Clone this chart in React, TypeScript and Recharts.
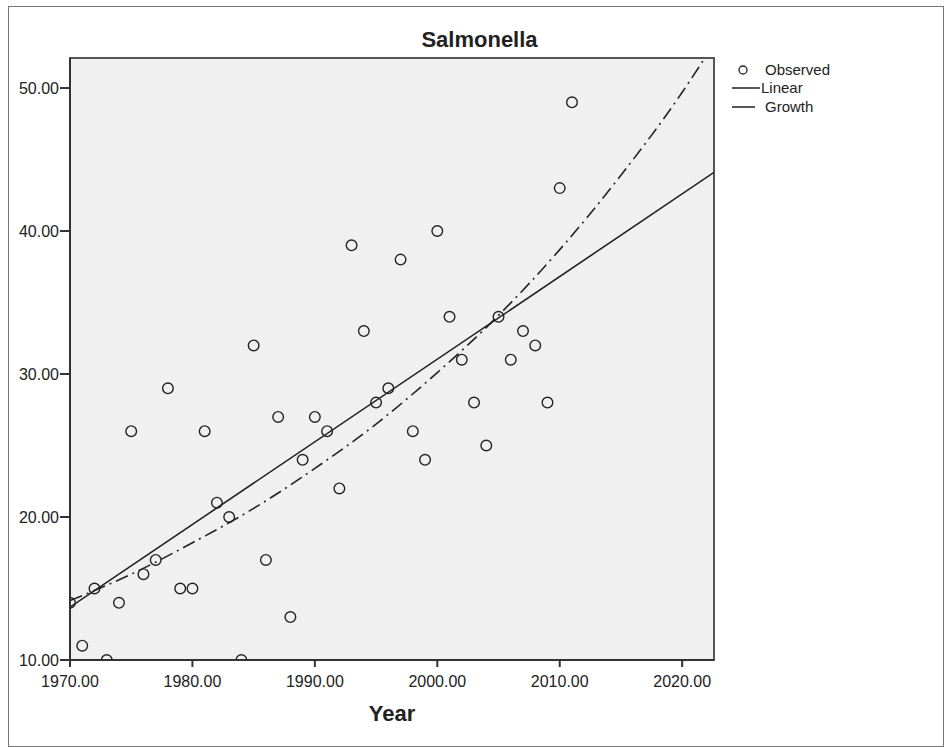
import React from 'react';
import {
  ComposedChart,
  Scatter,
  Line,
  XAxis,
  YAxis,
  CartesianGrid,
  ReferenceArea,
  Legend,
  Label,
} from 'recharts';

const years = [
  1970, 1971, 1972, 1973, 1974, 1975, 1976, 1977, 1978, 1979,
  1980, 1981, 1982, 1983, 1984, 1985, 1986, 1987, 1988, 1989,
  1990, 1991, 1992, 1993, 1994, 1995, 1996, 1997, 1998, 1999,
  2000, 2001, 2002, 2003, 2004, 2005, 2006, 2007, 2008, 2009,
  2010, 2011,
];
const observed = [
  14, 11, 15, 10, 14, 26, 16, 17, 29, 15,
  15, 26, 21, 20, 10, 32, 17, 27, 13, 24,
  27, 26, 22, 39, 33, 28, 29, 38, 26, 24,
  40, 34, 31, 28, 25, 34, 31, 33, 32, 28,
  43, 49,
];

const linearYears = [1970, 2022.6];
const linearValues = [13.7, 44.1];

const growthYears = [1970, 1975, 1980, 1985, 1990, 1995, 2000, 2005, 2010, 2015, 2020, 2022.6];
const growthValues = [14.15, 16.0, 18.2, 20.6, 23.4, 26.5, 30.1, 34.1, 38.7, 43.9, 49.7, 53.1];

const xTicks = [1970, 1980, 1990, 2000, 2010, 2020];
const yTicks = [10, 20, 30, 40, 50];

const observedData = years.map((year, i) => ({ year, value: observed[i] }));
const linearData = linearYears.map((year, i) => ({ year, value: linearValues[i] }));
const growthData = growthYears.map((year, i) => ({ year, value: growthValues[i] }));

const INK = '#222';
const FONT = 'Arial, "Liberation Sans", sans-serif';

const OpenCircle = (props: any) => {
  const { cx, cy } = props;
  if (cx == null || cy == null) return null;
  return <circle cx={cx} cy={cy} r={5.3} fill="none" stroke={INK} strokeWidth={1.4} />;
};

const LegendBox = () => (
  <svg width={130} height={58} style={{ fontFamily: FONT, fontSize: 15 }}>
    <circle cx={11} cy={8} r={4} fill="none" stroke={INK} strokeWidth={1.3} />
    <text x={33} y={13} fill={INK}>Observed</text>
    <line x1={0} y1={26} x2={28} y2={26} stroke={INK} strokeWidth={1.5} />
    <text x={29} y={31} fill={INK}>Linear</text>
    <line x1={0} y1={45} x2={28} y2={45} stroke={INK} strokeWidth={1.5} strokeDasharray="23 5 2 100" />
    <text x={33} y={50} fill={INK}>Growth</text>
  </svg>
);

export default function App() {
  return (
    <div
      style={{
        position: 'absolute',
        left: 0,
        top: 0,
        width: 951,
        height: 747,
        background: '#fff',
        fontFamily: FONT,
      }}
    >
      <div
        style={{
          position: 'absolute',
          left: 8,
          top: 6,
          width: 934,
          height: 739,
          border: '1px solid #777',
        }}
      />
      <div
        style={{
          position: 'absolute',
          left: 4,
          width: 951,
          top: 27,
          textAlign: 'center',
          fontSize: 22,
          fontWeight: 'bold',
          color: INK,
        }}
      >
        Salmonella
      </div>
      <div style={{ position: 'absolute', left: 0, top: 0 }}>
        <ComposedChart
          width={951}
          height={747}
          margin={{ top: 58, right: 107, bottom: 0, left: 0 }}
        >
          <CartesianGrid fill="#f0f0f0" horizontal={false} vertical={false} />
          <XAxis
            type="number"
            dataKey="year"
            domain={[1970, 2022.6]}
            allowDataOverflow
            ticks={xTicks}
            tickFormatter={(v: number) => v.toFixed(2)}
            height={87}
            tickSize={7}
            tickMargin={9}
            axisLine={{ stroke: '#333', strokeWidth: 2 }}
            tickLine={{ stroke: '#333', strokeWidth: 2 }}
            tick={{ fill: INK, fontSize: 16, fontFamily: FONT }}
          >
            <Label
              value="Year"
              position="insideBottom"
              offset={26}
              style={{ fill: INK, fontSize: 22, fontWeight: 'bold', fontFamily: FONT }}
            />
          </XAxis>
          <YAxis
            type="number"
            dataKey="value"
            domain={[10, 52.1]}
            allowDataOverflow
            ticks={yTicks}
            tickFormatter={(v: number) => v.toFixed(2)}
            width={70}
            tickSize={10}
            tickMargin={1}
            axisLine={{ stroke: '#333', strokeWidth: 2 }}
            tickLine={{ stroke: '#333', strokeWidth: 2 }}
            tick={{ fill: INK, fontSize: 16, fontFamily: FONT }}
          />
          <ReferenceArea
            x1={1970}
            x2={2022.6}
            y1={10}
            y2={52.1}
            fill="none"
            fillOpacity={0}
            stroke="#555"
            strokeWidth={2}
          />
          <Legend
            verticalAlign="top"
            align="right"
            layout="vertical"
            content={<LegendBox />}
            wrapperStyle={{ position: 'absolute', left: 732, top: 62, width: 130 }}
          />
          <Line
            data={linearData}
            dataKey="value"
            type="linear"
            stroke={INK}
            strokeWidth={1.6}
            dot={false}
            activeDot={false}
            isAnimationActive={false}
            legendType="none"
          />
          <Line
            data={growthData}
            dataKey="value"
            type="monotone"
            stroke={INK}
            strokeWidth={1.6}
            strokeDasharray="13 5 2 5"
            dot={false}
            activeDot={false}
            isAnimationActive={false}
            legendType="none"
          />
          <Scatter
            data={observedData}
            dataKey="value"
            shape={<OpenCircle />}
            isAnimationActive={false}
            legendType="none"
          />
        </ComposedChart>
      </div>
    </div>
  );
}
